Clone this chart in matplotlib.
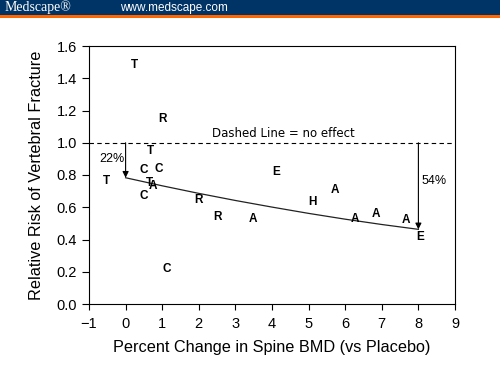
import matplotlib
matplotlib.use("Agg")
import matplotlib.pyplot as plt
from matplotlib.patches import Rectangle

plt.rcParams['font.family'] = ['Liberation Sans', 'DejaVu Sans']

# Trial labels (drug class letters) and their positions
labels = ["T", "R", "T", "C", "C", "T", "T", "A", "C", "C",
          "R", "R", "A", "E", "H", "A", "A", "A", "A", "E"]
bmd = [0.25, 1.01, 0.68, 0.50, 0.90, -0.52, 0.64, 0.74, 0.50, 1.12,
       2.00, 2.50, 3.49, 4.10, 5.10, 5.72, 6.26, 6.84, 7.65, 8.04]
rr = [1.48, 1.15, 0.95, 0.83, 0.84, 0.765, 0.75, 0.73, 0.67, 0.215,
      0.645, 0.54, 0.525, 0.82, 0.63, 0.705, 0.53, 0.56, 0.52, 0.415]

# Fitted curve
curve_x = [0, 1, 2, 3, 4, 5, 6, 7, 8]
curve_y = [0.783, 0.733, 0.686, 0.642, 0.601, 0.562, 0.526, 0.493, 0.463]

xticks = [-1, 0, 1, 2, 3, 4, 5, 6, 7, 8, 9]
yticks = [0.0, 0.2, 0.4, 0.6, 0.8, 1.0, 1.2, 1.4, 1.6]

fig = plt.figure(figsize=(5.0, 3.87), dpi=100)

# header band
fig.patches.append(Rectangle((0, 1 - 15/387), 1, 15/387, transform=fig.transFigure,
                             facecolor="#003366", edgecolor="none", zorder=0))
fig.patches.append(Rectangle((0, 1 - 17.5/387), 1, 2.5/387, transform=fig.transFigure,
                             facecolor="#FF6600", edgecolor="none", zorder=0))
fig.text(0.01, 1 - 7.5/387, "Medscape®", color="white", fontsize=10,
         family=["Liberation Serif", "DejaVu Serif"], va="center", ha="left")
fig.text(0.24, 1 - 7.5/387, "www.medscape.com", color="white", fontsize=8.5,
         va="center", ha="left")

ax = fig.add_axes([89/500, 1 - 304/387, (455 - 89)/500, (304 - 46)/387])
ax.set_xlim(-1, 9)
ax.set_ylim(0, 1.6)
ax.set_xticks(xticks)
ax.set_yticks(yticks)
ax.set_xticklabels([("\u2212" + str(-t)) if t < 0 else str(t) for t in xticks])
ax.set_yticklabels([f"{t:.1f}" for t in yticks])
ax.tick_params(axis="y", direction="out", length=5, width=0.8, labelsize=10.5, pad=3.5)
ax.tick_params(axis="x", direction="out", length=4, width=0.8, labelsize=10.5, pad=5)
for s in ax.spines.values():
    s.set_linewidth(0.8)

ax.axhline(1.0, color="black", linestyle=(0, (4, 3)), linewidth=0.8)
ax.text(4.3, 1.02, "Dashed Line = no effect", fontsize=8.5,
        family=["DejaVu Sans"], ha="center", va="bottom")

ax.plot(curve_x, curve_y, color="#222222", linewidth=0.9)

for lab, x, y in zip(labels, bmd, rr):
    ax.text(x, y, lab, fontsize=8.5, fontweight="bold", ha="center", va="center")

ax.annotate("", xy=(0, 0.783), xytext=(0, 1.0),
            arrowprops=dict(arrowstyle="-|>", color="black", lw=0.8,
                            shrinkA=0, shrinkB=0, mutation_scale=9))
ax.annotate("", xy=(8, 0.463), xytext=(8, 1.0),
            arrowprops=dict(arrowstyle="-|>", color="black", lw=0.8,
                            shrinkA=0, shrinkB=0, mutation_scale=9))
ax.text(-0.38, 0.90, "22%", fontsize=9, ha="center", va="center")
ax.text(8.42, 0.76, "54%", fontsize=9, ha="center", va="center")

ax.set_xlabel("Percent Change in Spine BMD (vs Placebo)", fontsize=11.7, labelpad=7)
ax.set_ylabel("Relative Risk of Vertebral Fracture", fontsize=11.7, labelpad=9)

fig.savefig("out.png", dpi=100)
